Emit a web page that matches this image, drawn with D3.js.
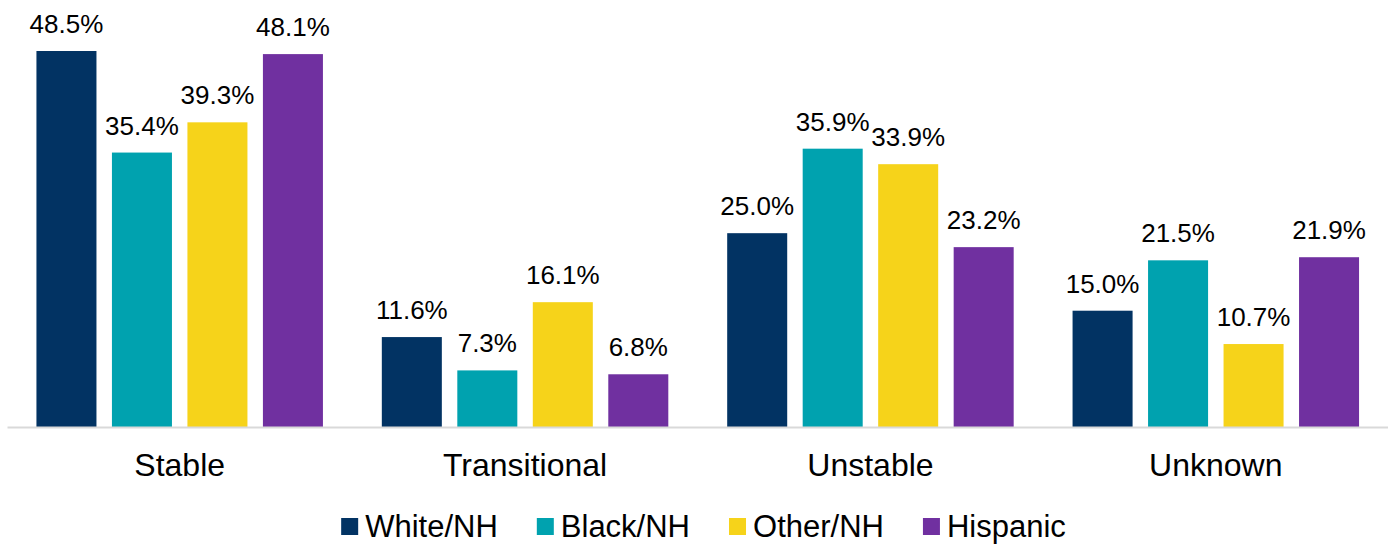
<!DOCTYPE html>
<html>
<head>
<meta charset="utf-8">
<script src="https://cdn.jsdelivr.net/npm/d3@7"></script>
<style>
    html, body { margin: 0; padding: 0; background: #ffffff; }
    #chart-container { width: 1388px; height: 545px; }
    text { font-family: "Liberation Sans", Arial, sans-serif; fill: #000000; }
</style>
</head>
<body>
<div id="chart-container"></div>
<script>
// chart data
var categories = ["Stable", "Transitional", "Unstable", "Unknown"];
var seriesNames = ["White/NH", "Black/NH", "Other/NH", "Hispanic"];
var whiteValues = [48.5, 11.6, 25.0, 15.0];
var blackValues = [35.4, 7.3, 35.9, 21.5];
var otherValues = [39.3, 16.1, 33.9, 10.7];
var hispanicValues = [48.1, 6.8, 23.2, 21.9];
var seriesColors = ["#023363", "#00A2AF", "#F6D31A", "#7030A0"];

function create_chart() {
    // Step 0: Scale the SVG
    var containerWidth = 1388;
    var containerHeight = 545;

    var svg = d3.select("#chart-container")
        .append("svg")
        .attr("id", "chart")
        .attr("width", containerWidth)
        .attr("height", containerHeight);

    // Step 1: Build rows from the named arrays
    var allSeries = [whiteValues, blackValues, otherValues, hispanicValues];
    var rows = categories.map(function(cat, i) {
        return {
            category: cat,
            values: seriesNames.map(function(name, j) {
                return { series: name, value: allSeries[j][i] };
            })
        };
    });

    // Step 2: Scales
    var x0 = d3.scaleBand()
        .domain(categories)
        .range([7, 1388.5])
        .padding(0);
    var x1 = d3.scaleBand()
        .domain(seriesNames)
        .range([0, x0.bandwidth()])
        .paddingInner(0.205)
        .paddingOuter(0.39);
    var yScale = d3.scaleLinear()
        .domain([0, 50])
        .range([427, 427 - 7.7526 * 50]);
    var color = d3.scaleOrdinal()
        .domain(seriesNames)
        .range(seriesColors);

    // Step 3: Bars
    var groups = svg.selectAll("g.group")
        .data(rows)
        .enter()
        .append("g")
        .attr("class", "group")
        .attr("transform", d => `translate(${x0(d.category)},0)`);

    groups.selectAll("rect")
        .data(d => d.values)
        .enter()
        .append("rect")
        .attr("x", d => x1(d.series))
        .attr("y", d => yScale(d.value))
        .attr("width", x1.bandwidth())
        .attr("height", d => yScale(0) - yScale(d.value))
        .attr("fill", d => color(d.series));

    // Step 4: Value labels
    groups.selectAll("text.value")
        .data(d => d.values)
        .enter()
        .append("text")
        .attr("class", "value")
        .attr("x", d => x1(d.series) + x1.bandwidth() / 2)
        .attr("y", d => yScale(d.value) - 18)
        .attr("text-anchor", "middle")
        .style("font-size", "26px")
        .text(d => d.value.toFixed(1) + "%");

    // Step 5: Category axis
    var xAxis = d3.axisBottom(x0)
        .tickSize(0)
        .tickSizeOuter(0)
        .tickPadding(0);

    var axisG = svg.append("g")
        .attr("transform", `translate(0, ${yScale(0)})`)
        .call(xAxis);

    axisG.select(".domain")
        .attr("stroke", "#d9d9d9")
        .attr("stroke-width", 2);

    axisG.selectAll(".tick text")
        .attr("y", 49)
        .attr("dy", 0)
        .attr("fill", "#000000")
        .style("font-size", "32px")
        .style("font-family", "'Liberation Sans', Arial, sans-serif");

    // Step 6: Legend
    var legend = svg.append("g").attr("class", "legend");
    var items = legend.selectAll("g")
        .data(seriesNames)
        .enter()
        .append("g");

    items.append("rect")
        .attr("y", 518)
        .attr("width", 17)
        .attr("height", 17)
        .attr("fill", d => color(d));

    items.append("text")
        .attr("x", 24)
        .attr("y", 537)
        .style("font-size", "31px")
        .text(d => d);

    // lay the items out side by side, then center them
    var offset = 0;
    var gap = 39;
    items.each(function() {
        var node = d3.select(this);
        node.attr("transform", `translate(${offset},0)`);
        offset += 24 + node.select("text").node().getComputedTextLength() + gap;
    });
    var totalWidth = offset - gap;
    legend.attr("transform", `translate(${703.5 - totalWidth / 2},0)`);
}

create_chart();
</script>
</body>
</html>
